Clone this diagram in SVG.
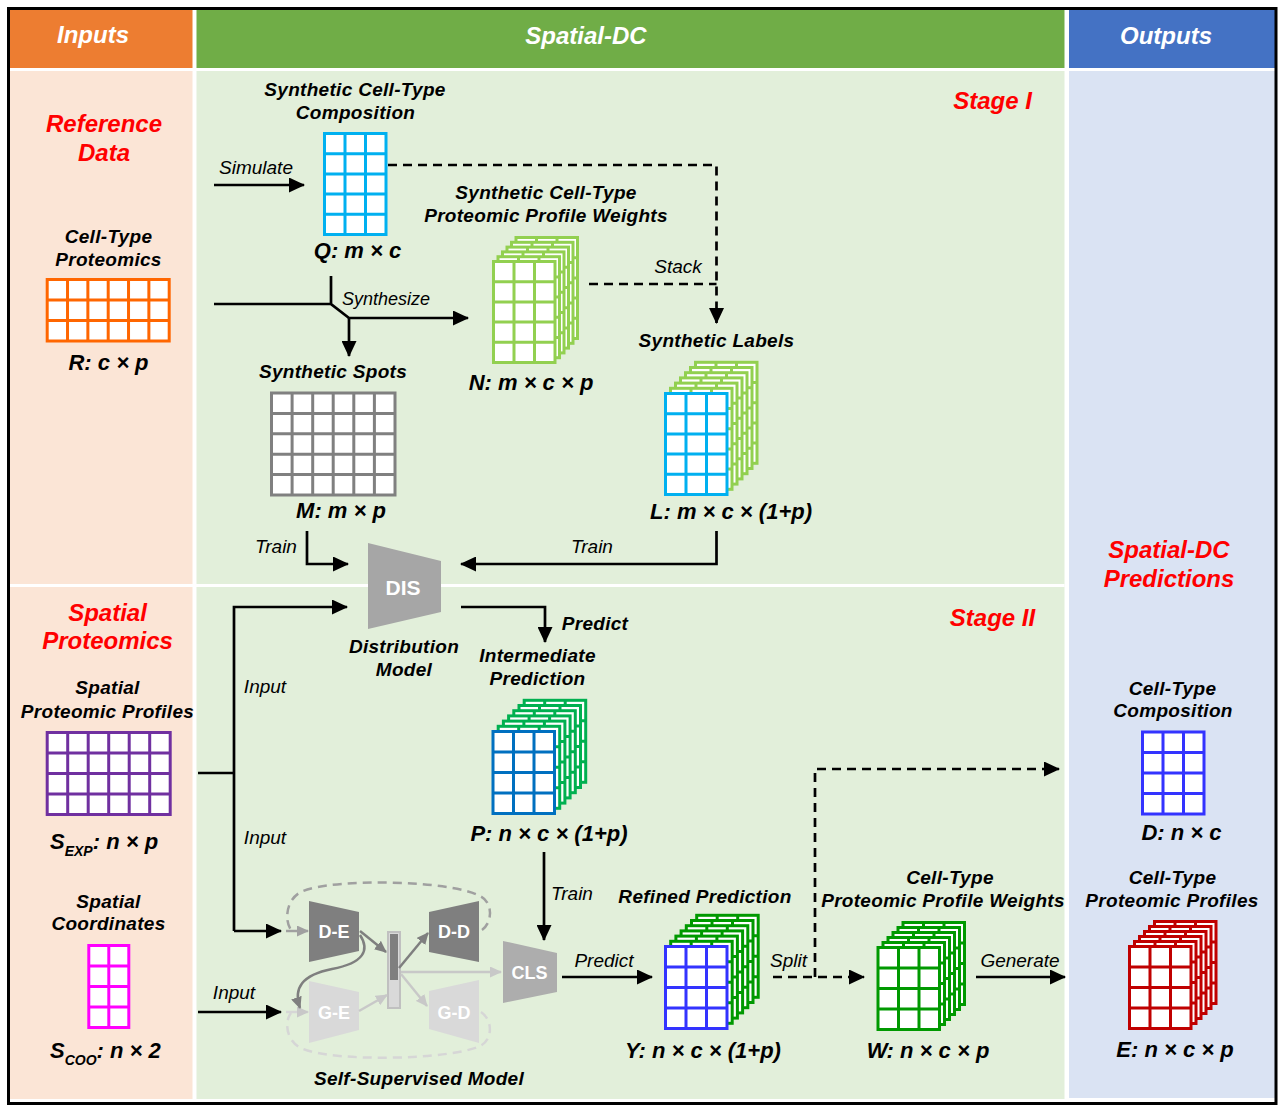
<svg xmlns="http://www.w3.org/2000/svg" xmlns:xlink="http://www.w3.org/1999/xlink" width="1284" height="1108" viewBox="0 0 1284 1108">
<style>
text { font-family: "Liberation Sans", Arial, sans-serif; text-anchor: middle; }
.hd { font-size: 24px; font-weight: bold; font-style: italic; fill: #fff; }
.red { font-size: 24px; font-weight: bold; font-style: italic; fill: #FF0000; }
.lb { font-size: 19px; font-weight: bold; font-style: italic; fill: #000; letter-spacing: 0.3px; }
.dim { font-size: 22px; font-weight: bold; font-style: italic; fill: #000; }
.it { font-size: 19px; font-style: italic; fill: #000; }
.mod { font-size: 18px; font-weight: bold; fill: #fff; }
.grid { stroke-width: 3; }
.ln { stroke: #000; stroke-width: 2.7; fill: none; }
.dash { stroke-dasharray: 9 6; }
.gd { stroke: #7F7F7F; stroke-width: 2.5; fill: none; }
.gl { stroke: #C8C8C8; stroke-width: 2.5; fill: none; }
</style>
<defs>
  <marker id="ah" markerUnits="userSpaceOnUse" viewBox="0 0 16 15" markerWidth="16" markerHeight="15" refX="15" refY="7.5" orient="auto"><path d="M0,0L16,7.5L0,15z" fill="#000"/></marker>
  <marker id="ahd" markerUnits="userSpaceOnUse" viewBox="0 0 12 11" markerWidth="12" markerHeight="11" refX="11" refY="5.5" orient="auto"><path d="M0,0L12,5.5L0,11z" fill="#7F7F7F"/></marker>
  <marker id="ahm" markerUnits="userSpaceOnUse" viewBox="0 0 12 11" markerWidth="12" markerHeight="11" refX="11" refY="5.5" orient="auto"><path d="M0,0L12,5.5L0,11z" fill="#A0A0A0"/></marker>
  <marker id="ahl" markerUnits="userSpaceOnUse" viewBox="0 0 12 11" markerWidth="12" markerHeight="11" refX="11" refY="5.5" orient="auto"><path d="M0,0L12,5.5L0,11z" fill="#C8C8C8"/></marker>
  <g id="g3x5"><rect width="61.5" height="101" fill="#fff"/><path d="M20.5,0V101M41,0V101M0,20.2H61.5M0,40.4H61.5M0,60.6H61.5M0,80.8H61.5" fill="none"/></g>
  <g id="g3x4"><rect width="61.5" height="82" fill="#fff"/><path d="M20.5,0V82M41,0V82M0,20.5H61.5M0,41H61.5M0,61.5H61.5" fill="none"/></g>
  <g id="g6x3"><rect width="122" height="61.5" fill="#fff"/><path d="M20.33,0V61.5M40.67,0V61.5M61,0V61.5M81.33,0V61.5M101.67,0V61.5M0,20.5H122M0,41H122" fill="none"/></g>
  <g id="g6x5"><rect width="123.5" height="102" fill="#fff"/><path d="M20.6,0V102M41.2,0V102M61.7,0V102M82.3,0V102M102.9,0V102M0,20.4H123.5M0,40.8H123.5M0,61.2H123.5M0,81.6H123.5" fill="none"/></g>
  <g id="g6x4"><rect width="123" height="82" fill="#fff"/><path d="M20.5,0V82M41,0V82M61.5,0V82M82,0V82M102.5,0V82M0,20.5H123M0,41H123M0,61.5H123" fill="none"/></g>
  <g id="g2x4"><rect width="40" height="82" fill="#fff"/><path d="M20,0V82M0,20.5H40M0,41H40M0,61.5H40" fill="none"/></g>
</defs>

<!-- background & frame -->
<g id="background">
  <rect x="0" y="0" width="1284" height="1108" fill="#fff"/>
  <rect x="10" y="10" width="182.5" height="58" fill="#ED7D31"/>
  <rect x="196.5" y="10" width="868" height="58" fill="#70AD47"/>
  <rect x="1069" y="10" width="206" height="58" fill="#4472C4"/>
  <rect x="10" y="71" width="182.5" height="1028" fill="#FBE5D6"/>
  <rect x="196.5" y="71" width="868" height="1028" fill="#E2EFDA"/>
  <rect x="1069" y="71" width="206" height="1027" fill="#DAE3F3"/>
  <rect x="10" y="584" width="1054.5" height="3" fill="#fff"/>
  <rect x="8.5" y="8.5" width="1267.5" height="1095" fill="none" stroke="#000" stroke-width="3"/>
  <text class="hd" x="93" y="43">Inputs</text>
  <text class="hd" x="586" y="44">Spatial-DC</text>
  <text class="hd" x="1166" y="44">Outputs</text>
  <text class="red" x="104" y="132">Reference</text>
  <text class="red" x="104" y="161">Data</text>
  <text class="red" x="107.5" y="621">Spatial</text>
  <text class="red" x="107.5" y="649">Proteomics</text>
  <text class="red" x="1169" y="558">Spatial-DC</text>
  <text class="red" x="1169" y="587">Predictions</text>
  <text class="red" x="992.5" y="109">Stage I</text>
  <text class="red" x="992.5" y="626">Stage II</text>
</g>

<!-- connectors -->
<g id="connectors">
  <path class="ln" d="M214,185H304" marker-end="url(#ah)"/>
  <text class="it" x="256" y="174">Simulate</text>
  <path class="ln" d="M214,304H331M331,276V304L349,318H468" marker-end="url(#ah)"/>
  <path class="ln" d="M349,318V356" marker-end="url(#ah)"/>
  <text class="it" x="342" y="305" style="font-size:18px;text-anchor:start">Synthesize</text>
  <path class="ln dash" d="M388,165H716.5V323" marker-end="url(#ah)"/>
  <path class="ln dash" d="M589,284H716.5"/>
  <text class="it" x="678" y="273">Stack</text>
  <path class="ln" d="M307,531V564H348" marker-end="url(#ah)"/>
  <text class="it" x="276" y="553">Train</text>
  <path class="ln" d="M716.5,531V564H461" marker-end="url(#ah)"/>
  <text class="it" x="592" y="553">Train</text>
  <path class="ln" d="M234,931V607H347" marker-end="url(#ah)"/>
  <path class="ln" d="M198,773H234"/>
  <path class="ln" d="M234,931H281" marker-end="url(#ah)"/>
  <text class="it" x="265" y="693">Input</text>
  <text class="it" x="265" y="844">Input</text>
  <path class="ln" d="M461,607H545V642" marker-end="url(#ah)"/>
  <text class="lb" x="595" y="630">Predict</text>
  <path class="ln" d="M544,852V940" marker-end="url(#ah)"/>
  <text class="it" x="572" y="900">Train</text>
  <path class="ln" d="M562,977H652" marker-end="url(#ah)"/>
  <text class="it" x="604" y="967">Predict</text>
  <path class="ln dash" d="M773,977H864" marker-end="url(#ah)"/>
  <path class="ln dash" d="M815,977V769H1059" marker-end="url(#ah)"/>
  <text class="it" x="788.5" y="967">Split</text>
  <path class="ln" d="M976,977H1065" marker-end="url(#ah)"/>
  <text class="it" x="1020" y="967">Generate</text>
  <path class="ln" d="M198,1012H281" marker-end="url(#ah)"/>
  <text class="it" x="234" y="999">Input</text>
</g>

<!-- Inputs column nodes -->
<g id="node-R">
  <text class="lb" x="108.5" y="243">Cell-Type</text>
  <text class="lb" x="108.5" y="266">Proteomics</text>
  <use href="#g6x3" x="47.2" y="279.5" stroke="#FF6600" class="grid"/>
  <text class="dim" x="108.5" y="370">R: c × p</text>
</g>
<g id="node-SEXP">
  <text class="lb" x="107.5" y="694">Spatial</text>
  <text class="lb" x="107.5" y="718">Proteomic Profiles</text>
  <use href="#g6x4" x="47.2" y="732.5" stroke="#7030A0" class="grid"/>
  <text class="dim" x="50" y="849" style="text-anchor:start">S<tspan font-size="14" dy="7">EXP</tspan><tspan dy="-7">: n × p</tspan></text>
</g>
<g id="node-SCOO">
  <text class="lb" x="108.5" y="908">Spatial</text>
  <text class="lb" x="108.5" y="930">Coordinates</text>
  <use href="#g2x4" x="88.8" y="945.5" stroke="#FF00FF" class="grid"/>
  <text class="dim" x="50" y="1058" style="text-anchor:start">S<tspan font-size="14" dy="7">COO</tspan><tspan dy="-7">: n × 2</tspan></text>
</g>

<!-- Stage I nodes -->
<g id="node-Q">
  <text class="lb" x="355" y="96">Synthetic Cell-Type</text>
  <text class="lb" x="355.5" y="119">Composition</text>
  <use href="#g3x5" x="324.5" y="133.5" stroke="#00B0F0" class="grid"/>
  <text class="dim" x="357.5" y="258">Q: m × c</text>
</g>
<g id="node-N" stroke="#92D050" class="grid">
  <text class="lb" x="546" y="199" stroke="none">Synthetic Cell-Type</text>
  <text class="lb" x="546" y="222" stroke="none">Proteomic Profile Weights</text>
  <use href="#g3x5" x="516" y="237.5"/>
  <use href="#g3x5" x="511.5" y="242.3"/>
  <use href="#g3x5" x="507" y="247.1"/>
  <use href="#g3x5" x="502.5" y="251.9"/>
  <use href="#g3x5" x="498" y="256.7"/>
  <use href="#g3x5" x="493.5" y="261.5"/>
  <text class="dim" x="531" y="390" stroke="none">N: m × c × p</text>
</g>
<g id="node-M">
  <text class="lb" x="333" y="378">Synthetic Spots</text>
  <use href="#g6x5" x="271.5" y="393" stroke="#808080" class="grid"/>
  <text class="dim" x="341" y="518">M: m × p</text>
</g>
<g id="node-L" class="grid">
  <text class="lb" x="716.5" y="347">Synthetic Labels</text>
  <g stroke="#92D050">
    <use href="#g3x5" x="695.5" y="362.3"/>
    <use href="#g3x5" x="690.5" y="367.5"/>
    <use href="#g3x5" x="685.5" y="372.7"/>
    <use href="#g3x5" x="680.5" y="377.9"/>
    <use href="#g3x5" x="675.5" y="383.1"/>
    <use href="#g3x5" x="670.5" y="388.3"/>
  </g>
  <use href="#g3x5" x="665.5" y="393.5" stroke="#00B0F0"/>
  <text class="dim" x="731" y="519">L: m × c × (1+p)</text>
</g>
<g id="node-DIS">
  <polygon points="368,543 441,561 441,612 368,629" fill="#A6A6A6"/>
  <text class="mod" x="403" y="595" style="font-size:21px">DIS</text>
  <text class="lb" x="404" y="653">Distribution</text>
  <text class="lb" x="404" y="676">Model</text>
</g>

<!-- Stage II nodes -->
<g id="node-P" class="grid">
  <text class="lb" x="537.5" y="662">Intermediate</text>
  <text class="lb" x="537.5" y="685">Prediction</text>
  <g stroke="#00B050">
    <use href="#g3x4" x="524.2" y="700.3"/>
    <use href="#g3x4" x="519" y="705.5"/>
    <use href="#g3x4" x="513.8" y="710.7"/>
    <use href="#g3x4" x="508.6" y="715.9"/>
    <use href="#g3x4" x="503.4" y="721.1"/>
    <use href="#g3x4" x="498.2" y="726.3"/>
  </g>
  <use href="#g3x4" x="493" y="731.5" stroke="#0070C0"/>
  <text class="dim" x="549" y="841">P: n × c × (1+p)</text>
</g>
<g id="node-SSM">
  <path class="dash" d="M482,930C493,922 493,902 480,896C450,880 335,878 303,891C286,898 284,920 291,930" fill="none" stroke="#A0A0A0" stroke-width="2.5"/>
  <path d="M286,931H308" fill="none" stroke="#A0A0A0" stroke-width="2.5" marker-end="url(#ahm)"/>
  <path class="dash" d="M481,1012C493,1020 493,1040 480,1046C450,1060 335,1062 303,1049C286,1042 284,1022 291,1013" fill="none" stroke="#D6D6D6" stroke-width="2.5"/>
  <path d="M286,1012H308" fill="none" stroke="#D6D6D6" stroke-width="2.5" marker-end="url(#ahl)"/>
  <polygon points="309,901 359,912 359,951 309,962" fill="#7F7F7F"/>
  <polygon points="429,912 479,901 479,962 429,952" fill="#7F7F7F"/>
  <polygon points="309,981 359,992 359,1030 309,1043" fill="#D9D9D9"/>
  <polygon points="429,991 479,980 479,1043 429,1029" fill="#D9D9D9"/>
  <text class="mod" x="334" y="938">D-E</text>
  <text class="mod" x="454" y="938">D-D</text>
  <text class="mod" x="334" y="1019">G-E</text>
  <text class="mod" x="454" y="1019">G-D</text>
  <rect x="388" y="932" width="12" height="76" fill="#D9D9D9" stroke="#C0C0C0" stroke-width="2"/>
  <rect x="390" y="934" width="8" height="46" fill="#7F7F7F"/>
  <path class="gd" d="M360,931L386,952" marker-end="url(#ahd)"/>
  <path class="gd" d="M360,935C370,950 364,963 332,969C302,975 293,988 300,1008" marker-end="url(#ahd)"/>
  <path class="gd" d="M399,968L428,933" marker-end="url(#ahd)"/>
  <path class="gl" d="M401,972H501" marker-end="url(#ahl)"/>
  <path class="gl" d="M401,974L427,1006" marker-end="url(#ahl)"/>
  <path class="gl" d="M359,1011L387,995" marker-end="url(#ahl)"/>
  <text class="lb" x="419" y="1085">Self-Supervised Model</text>
</g>
<g id="node-CLS">
  <polygon points="503,941 557,953 557,992 503,1003" fill="#ADADAD"/>
  <text class="mod" x="529.5" y="979">CLS</text>
</g>
<g id="node-Y" class="grid">
  <text class="lb" x="705" y="903">Refined Prediction</text>
  <g stroke="#009900">
    <use href="#g3x4" x="696.7" y="915.3"/>
    <use href="#g3x4" x="691.5" y="920.5"/>
    <use href="#g3x4" x="686.3" y="925.7"/>
    <use href="#g3x4" x="681.1" y="930.9"/>
    <use href="#g3x4" x="675.9" y="936.1"/>
    <use href="#g3x4" x="670.7" y="941.3"/>
  </g>
  <use href="#g3x4" x="665.5" y="946.5" stroke="#3333FF"/>
  <text class="dim" x="703" y="1058">Y: n × c × (1+p)</text>
</g>
<g id="node-W" class="grid">
  <text class="lb" x="950" y="884">Cell-Type</text>
  <text class="lb" x="943" y="907">Proteomic Profile Weights</text>
  <g stroke="#009900">
    <use href="#g3x4" x="903" y="922.5"/>
    <use href="#g3x4" x="898" y="927.5"/>
    <use href="#g3x4" x="893" y="932.5"/>
    <use href="#g3x4" x="888" y="937.5"/>
    <use href="#g3x4" x="883" y="942.5"/>
    <use href="#g3x4" x="878" y="947.5"/>
  </g>
  <text class="dim" x="928" y="1058">W: n × c × p</text>
</g>

<!-- Outputs -->
<g id="node-D">
  <text class="lb" x="1172.5" y="695">Cell-Type</text>
  <text class="lb" x="1173" y="717">Composition</text>
  <use href="#g3x4" x="1142.5" y="732" stroke="#3333FF" class="grid"/>
  <text class="dim" x="1181.5" y="840">D: n × c</text>
</g>
<g id="node-E" class="grid">
  <text class="lb" x="1172.5" y="884">Cell-Type</text>
  <text class="lb" x="1172" y="907">Proteomic Profiles</text>
  <g stroke="#C00000">
    <use href="#g3x4" x="1154.5" y="921.5"/>
    <use href="#g3x4" x="1149.5" y="926.5"/>
    <use href="#g3x4" x="1144.5" y="931.5"/>
    <use href="#g3x4" x="1139.5" y="936.5"/>
    <use href="#g3x4" x="1134.5" y="941.5"/>
    <use href="#g3x4" x="1129.5" y="946.5"/>
  </g>
  <text class="dim" x="1175" y="1057">E: n × c × p</text>
</g>
</svg>
